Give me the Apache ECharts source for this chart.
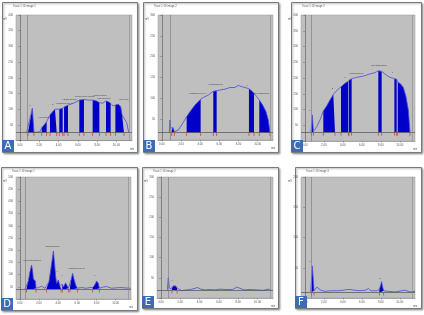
<!DOCTYPE html>
<html>
<head>
<meta charset="utf-8">
<script src="https://cdn.jsdelivr.net/npm/echarts@6/dist/echarts.min.js"></script>
<style>
html, body { margin: 0; padding: 0; background: #fff; }
#app { width: 424px; height: 315px; }
</style>
</head>
<body>
<div id="app"></div>
<script>
// panel A
var aX = [0.70, 0.84, 1.29, 1.46, 2.08, 2.26, 2.50, 2.77, 3.12, 3.39, 3.63, 3.81, 4.08, 4.43, 4.57, 4.98, 5.36, 5.81, 6.15, 6.63, 7.08, 7.53, 7.88, 8.05, 8.22, 8.57, 8.91, 9.15, 9.39, 9.67, 9.88, 10.19, 10.43, 10.57, 10.77, 11.05, 11.26];
var aY = [26, 26, 103, 26, 28, 41, 50, 60, 82, 92, 100, 95, 100, 103, 108, 113, 117, 123, 129, 131, 129, 129, 127, 123, 121, 119, 126, 124, 119, 110, 113, 116, 108, 82, 76, 57, 26];
var aFill = [[0.84, 1.46], [2.26, 2.77], [3.12, 3.81], [4.08, 4.43], [4.57, 4.98], [6.15, 6.63], [7.53, 8.22], [8.91, 9.39], [9.88, 10.77]];
var aLab = [[1.05, 112, '1'], [2.84, 74, 'Isoxanthohumol'], [3.39, 116, '2'], [4.57, 119, 'Xanthohumol C'], [5.12, 131, 'Xanthohumol'], [6.74, 142, 'Desmethylxantho'], [8.29, 144, 'cohumulone'], [8.70, 136, 'adhumulone'], [10.77, 133, 'lupulone']];

// panel B
var bX = [0.78, 0.85, 0.92, 1.03, 1.17, 1.30, 1.48, 1.72, 2.07, 2.59, 2.94, 3.46, 4.05, 4.33, 4.85, 5.37, 5.55, 5.72, 6.07, 6.59, 7.11, 7.63, 7.98, 8.33, 8.68, 9.09, 9.37, 9.62, 9.90, 10.17, 10.52, 10.87, 11.11, 11.29];
var bY = [18, 48, 28, 24, 30, 20, 18, 24, 36, 56, 68, 84, 98, 102, 108, 117, 119, 118, 120, 122, 126, 126, 131, 128, 126, 123, 118, 112, 104, 96, 84, 68, 48, 18];
var bFill = [[1.03, 1.30], [2.59, 4.05], [5.37, 5.72], [9.09, 9.62], [10.17, 11.29]];
var bLab = [[3.70, 113, 'Xanthohumol C'], [5.60, 134, 'Xanthohumol'], [8.90, 131, 'x'], [10.40, 111, 'Isoxanthohum']];

// panel C
var cX = [0.65, 0.72, 0.79, 0.90, 1.25, 1.60, 1.95, 2.30, 2.65, 3.00, 3.18, 3.42, 3.81, 4.23, 4.58, 4.65, 4.93, 5.46, 6.16, 6.86, 7.39, 7.74, 7.92, 8.09, 8.55, 8.97, 9.43, 9.67, 9.78, 10.09, 10.37, 10.65, 10.90, 11.07];
var cY = [28, 28, 83, 30, 45, 67, 95, 111, 130, 148, 153, 162, 172, 183, 190, 194, 198, 202, 206, 213, 217, 223, 227, 221, 210, 202, 198, 196, 188, 181, 170, 141, 98, 28];
var cFill = [[0.72, 0.90], [1.95, 3.18], [3.81, 4.58], [4.65, 4.93], [7.74, 8.09], [9.43, 9.67], [9.78, 11.07]];
var cLab = [[0.55, 96, '1'], [2.90, 167, '2'], [4.25, 203, '3'], [5.40, 216, 'Xanthohumol'], [7.80, 240, 'Isoxanthohum'], [9.25, 218, 'x']];

// panel D
var dX = [0.54, 0.71, 0.89, 1.06, 1.23, 1.34, 1.41, 1.51, 1.62, 1.69, 1.93, 2.28, 2.63, 2.80, 3.04, 3.25, 3.50, 3.60, 3.74, 3.84, 4.02, 4.16, 4.30, 4.43, 4.54, 4.68, 4.78, 4.92, 5.06, 5.23, 5.37, 5.51, 5.65, 5.83, 6.00, 6.45, 6.90, 7.32, 7.60, 7.81, 8.02, 8.19, 8.30, 8.71, 9.06, 9.58, 10.45, 11.56];
var dY = [41, 45, 74, 112, 139, 112, 82, 89, 74, 44, 47, 52, 44, 44, 71, 126, 197, 156, 92, 64, 78, 55, 47, 60, 49, 57, 66, 55, 44, 47, 82, 105, 82, 57, 44, 47, 44, 47, 47, 57, 74, 64, 44, 49, 51, 44, 47, 44];
var dFill = [[0.71, 1.69], [2.80, 4.30], [4.43, 5.06], [5.23, 6.00], [7.60, 8.30]];
var dLab = [[1.30, 158, 'Isoxanthohumol'], [3.40, 215, 'Xanthohumol'], [3.90, 114, 'x'], [4.40, 99, 'x'], [5.90, 125, 'Xanthohumol C'], [7.80, 97, 'x']];

// panel E
var eX = [0.67, 0.77, 0.87, 1.01, 1.15, 1.29, 1.39, 1.53, 1.67, 1.81, 2.15, 2.60, 3.08, 3.53, 3.77, 4.12, 4.56, 5.08, 5.60, 6.12, 6.74, 7.43, 7.84, 7.98, 8.19, 8.60, 9.22, 9.91, 10.60, 11.12, 11.46];
var eY = [20, 50, 27, 22, 25, 30, 34, 30, 25, 21, 18, 20, 21, 24, 26, 22, 20, 21, 20, 22, 21, 21, 27, 30, 24, 20, 21, 20, 19, 22, 19];
var eFill = [[1.15, 1.67]];
var eLab = [[1.15, 45, 'x']];

// panel F
var fX = [0.62, 0.72, 0.79, 0.86, 0.97, 1.11, 1.28, 1.46, 1.67, 2.13, 2.83, 3.53, 4.13, 4.41, 4.58, 4.76, 4.93, 5.18, 5.81, 6.44, 6.69, 6.93, 7.57, 7.85, 8.02, 8.09, 8.16, 8.30, 8.79, 9.50, 10.55, 11.07, 11.60];
var fY = [10, 10, 53, 38, 12, 14, 18, 16, 13, 11, 12, 12, 13, 14, 17, 14, 17, 13, 12, 13, 16, 12, 12, 14, 23, 27, 20, 12, 11, 10, 13, 10, 11];
var fFill = [[0.72, 0.97], [7.85, 8.30]];
var fLab = [[0.55, 60, '1'], [7.90, 33, '2']];

var xTicks = [0, 2, 4, 6, 8, 10];
var names = ['A', 'B', 'C', 'D', 'E', 'F'];

var panels = [
	{ x: aX, y: aY, fill: aFill, lab: aLab, base: 26, yMax: 400, inj: 0.75, grid: [16, 15, 116, 125.6], frame: [2, 2, 135, 150] },
	{ x: bX, y: bY, fill: bFill, lab: bLab, base: 18, yMax: 300, inj: 0.85, grid: [158, 15, 115, 125], frame: [143, 2, 135, 150] },
	{ x: cX, y: cY, fill: cFill, lab: cLab, base: 28, yMax: 400, inj: 0.73, grid: [301, 15, 114, 126], frame: [291, 2, 130, 150] },
	{ x: dX, y: dY, fill: dFill, lab: dLab, base: 41, yMax: 500, inj: 0.55, grid: [16, 177, 115, 122], frame: [1, 167, 136, 143] },
	{ x: eX, y: eY, fill: eFill, lab: eLab, base: 20, yMax: 300, inj: 0.74, grid: [157, 177, 116, 121], frame: [142, 167, 136, 141] },
	{ x: fX, y: fY, fill: fFill, lab: fLab, base: 10, yMax: 200, inj: 0.73, grid: [301, 177, 114, 121], frame: [295, 167, 126, 141] }
];

var option = {
	animation: false,
	grid: [], xAxis: [], yAxis: [], series: [], graphic: []
};

function fillIndex(p, x){
	for (var k = 0; k < p.fill.length; k++) {
		if(x >= p.fill[k][0] - 1e-6 && x <= p.fill[k][1] + 1e-6){
			return k;
		}
	}
	return -1;
}

for (var i = 0; i < panels.length; i++) {
	var p = panels[i];
	var g = p.grid, f = p.frame;

	// frame + label box
	option.graphic.push({
		type: 'rect', z: -10, silent: true,
		shape: { x: f[0] + 0.5, y: f[1] + 0.5, width: f[2], height: f[3] },
		style: { fill: '#fff', stroke: '#7a7a7a', lineWidth: 1, shadowBlur: 2, shadowColor: 'rgba(0,0,0,0.35)', shadowOffsetX: 1, shadowOffsetY: 1 }
	});
	option.graphic.push({
		type: 'text', silent: true, z: 5,
		x: f[0] + 11, y: f[1] + 3,
		style: { text: 'Trace 1: ID image ' + (i % 3 + 1), fontSize: 2.6, fill: '#555', fontFamily: 'Liberation Sans' }
	});
	option.graphic.push({
		type: 'text', silent: true, z: 5,
		x: g[0] - 13, y: g[1] + 3,
		style: { text: 'mV', fontSize: 2.6, fill: '#555' }
	});
	option.graphic.push({
		type: 'text', silent: true, z: 5,
		x: g[0] + g[2] - 2, y: g[1] + g[3] + 7,
		style: { text: 'min', fontSize: 2.6, fill: '#555' }
	});
	option.graphic.push({
		type: 'rect', silent: true, z: 20,
		shape: { x: f[0], y: f[1] + f[3] - 12, width: 12, height: 12 },
		style: { fill: '#3e6cb2' }
	});
	option.graphic.push({
		type: 'text', silent: true, z: 21,
		x: f[0] + 6, y: f[1] + f[3] - 6,
		style: { text: names[i], fontSize: 10, fill: '#fff', align: 'center', verticalAlign: 'middle', fontFamily: 'DejaVu Sans' }
	});

	option.grid.push({
		left: g[0], top: g[1], width: g[2], height: g[3],
		show: true, backgroundColor: '#bfbfbf', borderColor: '#9a9a9a', borderWidth: 0.5
	});
	option.xAxis.push({
		type: 'value', gridIndex: i, min: -0.4, max: 11.6,
		splitLine: { show: false },
		axisLine: { show: true, onZero: false, lineStyle: { color: '#666', width: 0.5 } },
		axisTick: { show: true, length: 1.5, customValues: xTicks, lineStyle: { color: '#666', width: 0.5 } },
		axisLabel: { fontSize: 2.8, color: '#555', margin: 3, customValues: xTicks, formatter: function(v){ return v.toFixed(2); } }
	});
	option.yAxis.push({
		type: 'value', gridIndex: i, min: 0, max: p.yMax, interval: 50,
		splitLine: { show: false },
		axisLine: { show: true, lineStyle: { color: '#555', width: 0.6 } },
		axisTick: { show: true, length: 1.5, lineStyle: { color: '#555', width: 0.5 } },
		axisLabel: { fontSize: 2.8, color: '#555', margin: 3, formatter: function(v){ return v === 0 ? '' : v; } }
	});

	// trace + fill
	var trace = [], filled = [], ticks = [], lastK = -1;
	for (var j = 0; j < p.x.length; j++) {
		trace.push([p.x[j], p.y[j]]);
		var k = fillIndex(p, p.x[j]);
		if(k !== lastK && filled.length){
			filled.push([p.x[j], '-']);
		}
		if(k >= 0){
			filled.push([p.x[j], p.y[j]]);
		}
		lastK = k;
	}
	for (var m = 0; m < p.fill.length; m++) {
		ticks.push([p.fill[m][0], p.base], [p.fill[m][1], p.base]);
	}

	option.series.push({
		type: 'line', xAxisIndex: i, yAxisIndex: i, data: filled, z: 2,
		symbol: 'none', silent: true, connectNulls: false,
		lineStyle: { width: 0 },
		areaStyle: { color: '#0000c8', opacity: 1, origin: p.base }
	});
	option.series.push({
		type: 'line', xAxisIndex: i, yAxisIndex: i, data: trace, z: 3,
		symbol: 'none', silent: true,
		lineStyle: { color: '#4a4ad8', width: 0.8 },
		markLine: {
			silent: true, symbol: ['none', 'none'], label: { show: false },
			lineStyle: { color: '#505050', width: 0.7, type: 'solid' },
			data: [
				{ yAxis: p.base },
				{ xAxis: p.inj, lineStyle: { color: '#777', width: 0.6 } },
				{ xAxis: 11.3, lineStyle: { color: '#888', width: 0.6 } }
			]
		}
	});
	option.series.push({
		type: 'scatter', xAxisIndex: i, yAxisIndex: i, data: ticks, z: 4,
		symbol: 'rect', symbolSize: [0.8, 3], symbolOffset: [0, 2], silent: true,
		itemStyle: { color: '#e02020' }
	});
	option.series.push({
		type: 'scatter', xAxisIndex: i, yAxisIndex: i, z: 6, silent: true,
		symbolSize: 0,
		data: p.lab.map(function(l){ return { value: [l[0], l[1]], name: l[2] }; }),
		label: { show: true, position: 'inside', formatter: '{b}', fontSize: 2.5, color: '#222' }
	});
}

var myChart = echarts.init(document.getElementById('app'));
myChart.setOption(option);
</script>
</body>
</html>
